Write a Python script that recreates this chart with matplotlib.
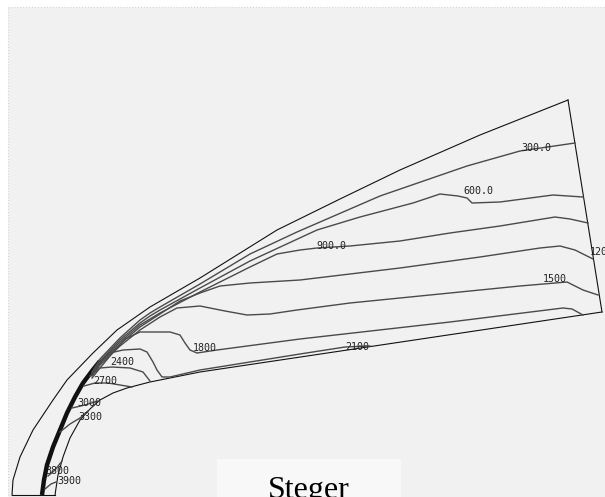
import matplotlib
matplotlib.use("Agg")
import matplotlib.pyplot as plt
import matplotlib.patches as mpatches

# Everything is in image pixel units (x right, y down)

# domain boundaries
outer = [(12, 495), (13, 480), (20, 457), (33, 430), (53, 400), (67, 380), (93, 353),
         (117, 330), (150, 307), (200, 278), (277, 230), (340, 199), (400, 170),
         (480, 135), (568, 100)]
outflow = [(568, 100), (602, 312)]
body = [(55, 495), (58, 475), (63, 457), (70, 438), (80, 420), (90, 409), (100, 400),
        (113, 393), (127, 388), (150, 382), (175, 377), (200, 372), (602, 312)]
symmetry = [(12, 495), (55, 495)]
shock = [(42, 495), (44, 480), (47, 465), (53, 447), (60, 430), (67, 413), (75, 397),
         (83, 383), (92, 371), (100, 361)]

# contour lines
c300 = [(92, 372), (100, 359), (120, 338), (140, 320), (150, 313), (160, 307), (200, 284),
        (250, 254), (297, 232), (380, 196), (467, 166), (520, 151), (575, 143)]
c600 = [(92, 373), (100, 361), (120, 340), (140, 323), (150, 316), (160, 310), (200, 288),
        (250, 261), (317, 230), (360, 217), (413, 203), (440, 194), (458, 196), (467, 198),
        (472, 203), (500, 202), (553, 195), (583, 197)]
c900 = [(92, 374), (100, 362), (120, 342), (140, 325), (150, 319), (160, 313), (200, 292),
        (250, 267), (277, 254), (300, 250), (317, 248), (350, 246), (400, 241), (450, 233),
        (500, 226), (555, 217), (570, 219), (588, 223)]
c1200 = [(92, 375), (100, 363), (120, 344), (140, 327), (160, 314), (180, 301), (200, 293),
         (220, 286), (250, 283), (300, 280), (400, 268), (480, 257), (540, 248), (560, 246),
         (575, 250), (593, 259)]
c1500 = [(92, 376), (100, 365), (120, 346), (140, 330), (160, 317), (177, 308), (200, 306),
         (225, 311), (247, 315), (270, 314), (297, 310), (350, 303), (450, 293), (520, 286),
         (567, 282), (583, 290), (598, 295)]
c1800 = [(92, 378), (100, 368), (115, 350), (125, 339), (140, 332), (170, 332), (180, 335),
         (185, 343), (190, 350), (197, 353), (217, 350), (300, 339), (450, 322), (563, 308),
         (572, 309), (583, 315)]
c2100 = [(93, 372), (100, 363), (110, 353), (123, 350), (140, 349), (147, 352), (153, 362),
         (157, 370), (162, 377), (170, 377), (200, 370), (300, 354), (345, 347), (370, 346)]
c2400 = [(90, 376), (100, 368), (112, 367), (130, 368), (143, 372), (150, 381)]
c2700 = [(84, 386), (95, 383), (108, 383), (120, 385), (132, 387)]
c3000 = [(72, 408), (85, 405), (98, 401)]
c3300 = [(60, 432), (70, 424), (80, 418), (88, 411)]
c3800 = [(48, 476), (55, 470), (62, 461)]
c3900 = [(45, 489), (51, 484), (56, 482)]

contours = [c300, c600, c900, c1200, c1500, c1800, c2100, c2400, c2700, c3000, c3300,
            c3800, c3900]

# contour labels and where they sit (left edge, vertical centre)
label_text = ["300.0", "600.0", "900.0", "1200", "1500", "1800", "2100", "2400", "2700",
              "3000", "3300", "3800", "3900"]
label_xy = [(521, 148), (463, 191), (316, 246), (590, 252), (543, 279), (193, 348),
            (345, 347), (110, 362), (93, 381), (77, 403), (78, 417), (45, 471), (57, 481)]

fig = plt.figure(figsize=(6.05, 4.97), dpi=100)
fig.patch.set_facecolor("white")
ax = fig.add_axes([0, 0, 1, 1])
ax.set_xlim(0, 605)
ax.set_ylim(497, 0)
ax.axis("off")

# grey panel with dotted border
ax.add_patch(mpatches.Rectangle((8, 7), 600, 495, facecolor="#f1f1f1",
                                edgecolor="#d4d4d4", linestyle=":", linewidth=0.8))


def xy(pts):
    return [p[0] for p in pts], [p[1] for p in pts]


for line in [outer, outflow, body, symmetry]:
    ax.plot(*xy(line), color="#111111", linewidth=0.8)

ax.plot(*xy(shock), color="#111111", linewidth=3.2, solid_capstyle="butt")

for line in contours:
    ax.plot(*xy(line), color="#4a4a4a", linewidth=1.0)

for txt, (lx, ly) in zip(label_text, label_xy):
    ax.text(lx, ly, txt, fontsize=7.2, family="DejaVu Sans Mono", color="#222222",
            ha="left", va="center")

# caption box at the bottom
ax.add_patch(mpatches.Rectangle((217, 459), 184, 40, facecolor="#f8f8f8",
                                edgecolor="none"))
ax.text(309, 498, "Steger", fontsize=23, family="Liberation Serif", color="black",
        ha="center", va="baseline")

fig.savefig("out.png", dpi=100)
